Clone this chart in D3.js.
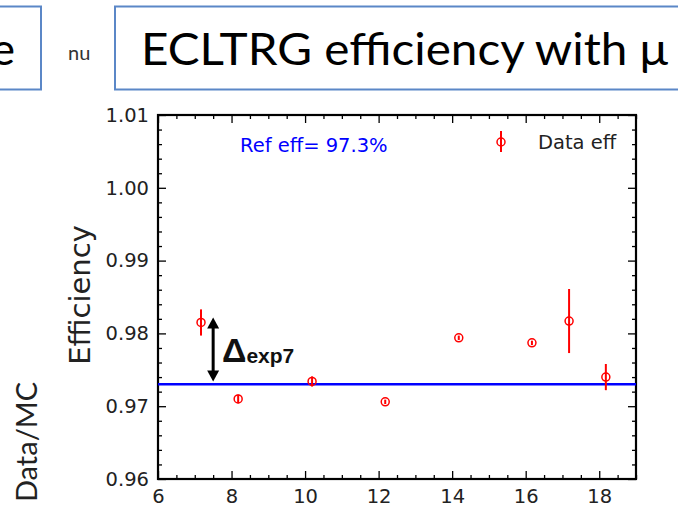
<!DOCTYPE html>
<html>
<head>
<meta charset="utf-8">
<script src="https://cdn.jsdelivr.net/npm/d3@7"></script>
<style>
  body { margin: 0; background: #fff; }
  svg { display: block; }
</style>
</head>
<body>
<svg id="chart" width="678" height="509"></svg>
<script>
// values
var binX = [7.17, 8.18, 10.19, 12.18, 14.18, 16.17, 17.18, 18.18];
var effValues = [0.9815, 0.9710, 0.9734, 0.9706, 0.9794, 0.9787, 0.9817, 0.9740];
var effErrors = [0.0018, 0.0006, 0.0007, 0.0003, 0.0003, 0.0003, 0.0044, 0.0018];
var refEff = 0.973;
var xTicks = [6, 8, 10, 12, 14, 16, 18];
var yTicks = [0.96, 0.97, 0.98, 0.99, 1.00, 1.01];

var svg = d3.select('#chart');

// slide decorations around the plot
svg.append('rect')
  .attr('x', -10).attr('y', 6.5).attr('width', 51).attr('height', 83)
  .style('fill', 'none').style('stroke', '#5b87c7').style('stroke-width', 2);
svg.append('text')
  .attr('x', 15).attr('y', 65)
  .attr('text-anchor', 'end')
  .style('font-family', 'Lato').style('font-size', '45px').style('fill', '#000')
  .text('e');
svg.append('text')
  .attr('x', 68).attr('y', 60)
  .style('font-family', 'Lato').style('font-size', '20px').style('fill', '#333')
  .text('nu');
svg.append('rect')
  .attr('x', 115).attr('y', 6.5).attr('width', 600).attr('height', 83)
  .style('fill', 'none').style('stroke', '#5b87c7').style('stroke-width', 2);
svg.append('text')
  .attr('x', 141).attr('y', 65)
  .attr('textLength', 527).attr('lengthAdjust', 'spacingAndGlyphs')
  .style('font-family', 'Lato').style('font-size', '44px').style('fill', '#000')
  .text('ECLTRG efficiency with \u03bc');
svg.append('text')
  .attr('transform', 'translate(37,442) rotate(-90)')
  .attr('text-anchor', 'middle')
  .style('font-family', 'Lato').style('font-size', '29px').style('fill', '#222')
  .text('Data/MC');

// plot area
var pLeft = 158, pRight = 636, pTop = 115, pBottom = 479;
var x = d3.scaleLinear().domain([6, 19]).range([pLeft, pRight]);
var y = d3.scaleLinear().domain([0.96, 1.01]).range([pBottom, pTop]);

var xMinor = d3.range(6, 19.01, 0.5).filter(function (d) { return d % 2 != 0; });
var yMinor = d3.range(0, 26).map(function (i) { return 0.96 + i * 0.002; })
  .filter(function (d, i) { return i % 5 != 0; });

function tickFont(g) {
  g.selectAll('text')
    .style('font-family', 'DejaVu Sans')
    .style('font-size', '19.5px')
    .style('fill', '#222');
  g.selectAll('line').style('stroke', '#000').style('stroke-width', 1.3);
  g.select('.domain').remove();
}

svg.append('g')
  .attr('transform', 'translate(0,' + pBottom + ')')
  .call(d3.axisBottom(x).tickValues(xTicks).tickSize(-8).tickPadding(10).tickFormat(d3.format('d')))
  .call(tickFont);
svg.append('g')
  .attr('transform', 'translate(0,' + pBottom + ')')
  .call(d3.axisBottom(x).tickValues(xMinor).tickSize(-4).tickFormat(''))
  .call(tickFont);
svg.append('g')
  .attr('transform', 'translate(0,' + pTop + ')')
  .call(d3.axisTop(x).tickValues(xTicks).tickSize(-8).tickFormat(''))
  .call(tickFont);
svg.append('g')
  .attr('transform', 'translate(0,' + pTop + ')')
  .call(d3.axisTop(x).tickValues(xMinor).tickSize(-4).tickFormat(''))
  .call(tickFont);

svg.append('g')
  .attr('transform', 'translate(' + pLeft + ',0)')
  .call(d3.axisLeft(y).tickValues(yTicks).tickSize(-8).tickPadding(9).tickFormat(d3.format('.2f')))
  .call(tickFont);
svg.append('g')
  .attr('transform', 'translate(' + pLeft + ',0)')
  .call(d3.axisLeft(y).tickValues(yMinor).tickSize(-4).tickFormat(''))
  .call(tickFont);
svg.append('g')
  .attr('transform', 'translate(' + pRight + ',0)')
  .call(d3.axisRight(y).tickValues(yTicks).tickSize(-8).tickFormat(''))
  .call(tickFont);
svg.append('g')
  .attr('transform', 'translate(' + pRight + ',0)')
  .call(d3.axisRight(y).tickValues(yMinor).tickSize(-4).tickFormat(''))
  .call(tickFont);

svg.append('rect')
  .attr('x', pLeft).attr('y', pTop)
  .attr('width', pRight - pLeft).attr('height', pBottom - pTop)
  .style('fill', 'none').style('stroke', '#000').style('stroke-width', 2.2);

svg.append('text')
  .attr('transform', 'translate(90,295) rotate(-90)')
  .attr('text-anchor', 'middle')
  .style('font-family', 'DejaVu Sans').style('font-size', '29px').style('fill', '#222')
  .text('Efficiency');

// reference efficiency line
svg.append('line')
  .attr('x1', pLeft).attr('x2', pRight)
  .attr('y1', y(refEff)).attr('y2', y(refEff))
  .style('stroke', '#0000ff').style('stroke-width', 2.5);

svg.append('text')
  .attr('x', 240).attr('y', 152)
  .style('font-family', 'DejaVu Sans').style('font-size', '19.5px').style('fill', '#0000ff')
  .text('Ref eff= 97.3%');

// data points with error bars
var pts = binX.map(function (d, i) {
  return { x: d, v: effValues[i], e: effErrors[i] };
});
svg.selectAll('line.err')
  .data(pts)
  .enter()
  .append('line')
  .attr('class', 'err')
  .attr('x1', function (d) { return x(d.x); })
  .attr('x2', function (d) { return x(d.x); })
  .attr('y1', function (d) { return y(d.v + d.e); })
  .attr('y2', function (d) { return y(d.v - d.e); })
  .style('stroke', '#ff0000').style('stroke-width', 2);
svg.selectAll('circle.pt')
  .data(pts)
  .enter()
  .append('circle')
  .attr('class', 'pt')
  .attr('cx', function (d) { return x(d.x); })
  .attr('cy', function (d) { return y(d.v); })
  .attr('r', 4)
  .style('fill', 'none').style('stroke', '#ff0000').style('stroke-width', 1.5);

// legend
svg.append('line')
  .attr('x1', 501).attr('x2', 501).attr('y1', 131).attr('y2', 152)
  .style('stroke', '#ff0000').style('stroke-width', 2);
svg.append('circle')
  .attr('cx', 501).attr('cy', 142).attr('r', 4)
  .style('fill', 'none').style('stroke', '#ff0000').style('stroke-width', 1.5);
svg.append('text')
  .attr('x', 538).attr('y', 149)
  .style('font-family', 'DejaVu Sans').style('font-size', '19.5px').style('fill', '#222')
  .text('Data eff');

// delta annotation arrow
var ax = x(7.5), aTop = y(0.9822), aBot = y(0.9734);
svg.append('line')
  .attr('x1', ax).attr('x2', ax).attr('y1', aTop + 9).attr('y2', aBot - 9)
  .style('stroke', '#000').style('stroke-width', 3);
svg.append('path')
  .attr('d', 'M' + ax + ',' + aTop + 'l-6,11h12z')
  .style('fill', '#000');
svg.append('path')
  .attr('d', 'M' + ax + ',' + aBot + 'l-6,-11h12z')
  .style('fill', '#000');
var delta = svg.append('text')
  .attr('x', 222).attr('y', 362)
  .style('font-family', 'Liberation Sans').style('font-weight', 'bold').style('fill', '#111');
delta.append('tspan').style('font-size', '34px').text('\u0394');
delta.append('tspan').style('font-size', '21px').attr('dy', 1).text('exp7');
</script>
</body>
</html>
